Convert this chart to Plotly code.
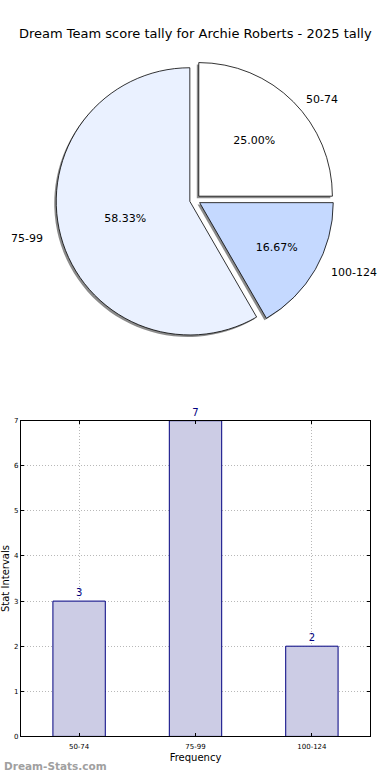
import plotly.graph_objects as go

categories = ["50-74", "75-99", "100-124"]
counts = [3, 7, 2]
pie_colors = ["#FFFFFF", "#EAF1FF", "#C5D9FF"]
title_text = "Dream Team score tally for Archie Roberts - 2025 tally"

W, H = 390, 780
FONT = "DejaVu Sans"

def px_x(v):
    return v / W

def px_y(v):
    return 1 - v / H

# pie geometry (pixels)
cx, cy, r, pull = 194, 198, 135, 0.04
half = r * (1 + pull)

fig = go.Figure()

# shadow pie
sdx, sdy = -2, 2
fig.add_trace(go.Pie(
    labels=categories, values=counts, sort=False, direction="counterclockwise", rotation=0,
    pull=[pull] * 3, marker=dict(colors=["rgba(110,110,110,0.8)"] * 3, line=dict(width=0)),
    textinfo="none", hoverinfo="skip", showlegend=False,
    domain=dict(x=[px_x(cx + sdx - half), px_x(cx + sdx + half)],
                y=[px_y(cy + sdy + half), px_y(cy + sdy - half)]),
))

fig.add_trace(go.Pie(
    labels=categories, values=counts, sort=False, direction="counterclockwise", rotation=0,
    pull=[pull] * 3, marker=dict(colors=pie_colors, line=dict(color="black", width=0.8)),
    texttemplate="%{percent:.2%}", textposition="inside", insidetextorientation="horizontal",
    textfont=dict(family=FONT, size=11, color="black"), showlegend=False,
    domain=dict(x=[px_x(cx - half), px_x(cx + half)],
                y=[px_y(cy + half), px_y(cy - half)]),
))

fig.add_trace(go.Bar(
    x=categories, y=counts, width=0.45,
    marker=dict(color="#CCCCE5", line=dict(color="#000080", width=1)),
    text=[str(c) for c in counts], textposition="outside", cliponaxis=False,
    textfont=dict(family=FONT, size=10, color="#000080"),
    xaxis="x", yaxis="y", showlegend=False,
))

label_pos = {"50-74": (322, 96), "75-99": (25, 237), "100-124": (354, 271)}
annotations = []
for lab in categories:
    x, y = label_pos[lab]
    annotations.append(dict(x=px_x(x), y=px_y(y), xref="paper", yref="paper", text=lab,
                            xanchor="center", yanchor="middle",
                            showarrow=False, font=dict(family=FONT, size=11, color="black")))
annotations.append(dict(x=px_x(194), y=px_y(30), xref="paper", yref="paper", text=title_text,
                        xanchor="center", yanchor="middle",
                        showarrow=False, font=dict(family=FONT, size=13, color="black")))
annotations.append(dict(x=0, y=px_y(770), xref="paper", yref="paper", xanchor="left",
                        yanchor="middle",
                        text="<b>Dream-Stats.com</b>", showarrow=False,
                        font=dict(family=FONT, size=10.5, color="#a0a0a0")))

axis_common = dict(showline=True, linecolor="black", linewidth=1, mirror="ticks",
                   showgrid=True, gridcolor="#b8b8b8", griddash="1px,2px", gridwidth=1,
                   ticks="inside", ticklen=3, tickcolor="black", zeroline=False,
                   tickfont=dict(family=FONT, size=7, color="black"))

fig.update_layout(
    width=W, height=H, margin=dict(l=0, r=0, t=0, b=0),
    paper_bgcolor="white", plot_bgcolor="white",
    xaxis=dict(domain=[px_x(19), px_x(370)], range=[-0.5, 2.5], anchor="y",
               ticklabelstandoff=3,
               title=dict(text="Frequency", font=dict(family=FONT, size=10, color="black"), standoff=4),
               **axis_common),
    yaxis=dict(domain=[px_y(740), px_y(421)], range=[0, 7], dtick=1, anchor="x",
               title=dict(text="Stat Intervals", font=dict(family=FONT, size=10, color="black"), standoff=7),
               **axis_common),
    annotations=annotations,
)

fig.write_html("out.html", config={"displayModeBar": False},
               post_script="document.body.style.margin='0';")
